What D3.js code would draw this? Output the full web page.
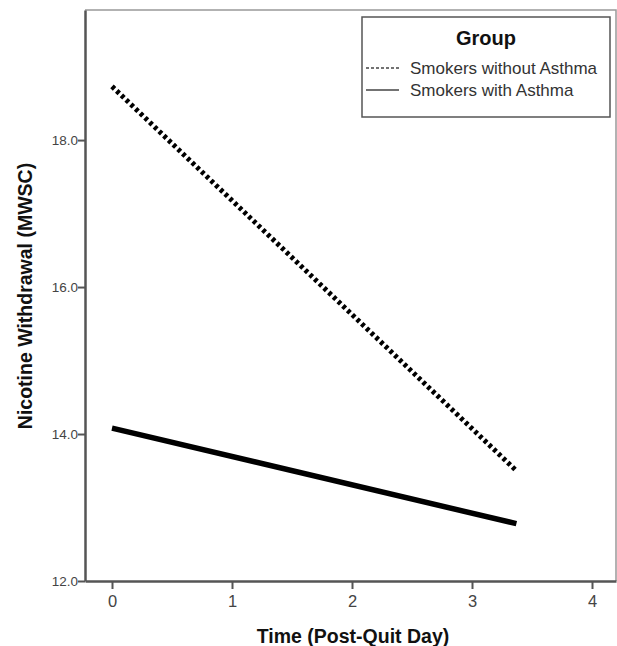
<!DOCTYPE html>
<html>
<head>
<meta charset="utf-8">
<script src="https://cdn.jsdelivr.net/npm/d3@7/dist/d3.min.js"></script>
<style>
  body { margin: 0; background: #fff; }
  svg { display: block; font-family: "Liberation Sans", Arial, sans-serif; }
</style>
</head>
<body>
<div id="chart"></div>
<script>
// values
const groups = ["Smokers without Asthma", "Smokers with Asthma"];
const timeDays = [0, 3.37];
const withoutAsthma = [18.73, 13.50];
const withAsthma = [14.08, 12.78];
const xTicks = [0, 1, 2, 3, 4];
const yTicks = [12, 14, 16, 18];

const W = 617, H = 646;
const margin = { top: 10, right: 1, bottom: 65, left: 85 };

const svg = d3.select("#chart").append("svg")
  .attr("width", W).attr("height", H);

const x = d3.scaleLinear().domain([-0.225, 4.2])
  .range([margin.left, W - margin.right]);
const y = d3.scaleLinear().domain([12, 19.77])
  .range([H - margin.bottom, margin.top]);

// frame (top / right light lines)
svg.append("path")
  .attr("d", `M${margin.left},${margin.top}H${W - margin.right}V${H - margin.bottom}`)
  .attr("fill", "none").attr("stroke", "#999").attr("stroke-width", 1.5);

// y axis
const yAxis = svg.append("g")
  .attr("transform", `translate(${margin.left},0)`)
  .call(d3.axisLeft(y).tickValues(yTicks).tickFormat(d3.format(".1f")).tickSize(7).tickSizeOuter(0));
yAxis.select(".domain").attr("stroke", "#555").attr("stroke-width", 2.5);
yAxis.selectAll(".tick line").attr("stroke", "#555").attr("stroke-width", 2);
yAxis.selectAll(".tick text").attr("fill", "#444").attr("font-size", 13.5)
  .attr("x", -7).attr("font-family", "Liberation Sans, Arial, sans-serif");

// x axis
const xAxis = svg.append("g")
  .attr("transform", `translate(0,${H - margin.bottom})`)
  .call(d3.axisBottom(x).tickValues(xTicks).tickFormat(d3.format("d")).tickSize(8).tickSizeOuter(0));
xAxis.select(".domain").attr("stroke", "#555").attr("stroke-width", 2.5);
xAxis.selectAll(".tick line").attr("stroke", "#555").attr("stroke-width", 2);
xAxis.selectAll(".tick text").attr("fill", "#444").attr("font-size", 16.5)
  .attr("y", 14).attr("font-family", "Liberation Sans, Arial, sans-serif");

// axis titles
svg.append("text")
  .attr("x", 353).attr("y", 643)
  .attr("text-anchor", "middle").attr("font-weight", "bold").attr("font-size", 19.5)
  .attr("fill", "#111")
  .text("Time (Post-Quit Day)");

svg.append("text")
  .attr("transform", "translate(32,296) rotate(-90)")
  .attr("text-anchor", "middle").attr("font-weight", "bold").attr("font-size", 19.5)
  .attr("fill", "#111")
  .text("Nicotine Withdrawal (MWSC)");

// lines
const line = d3.line().x(d => x(d[0])).y(d => y(d[1]));

svg.append("path")
  .datum(timeDays.map((t, i) => [t, withoutAsthma[i]]))
  .attr("d", line)
  .attr("fill", "none").attr("stroke", "#000").attr("stroke-width", 5)
  .attr("stroke-dasharray", "3.5,3");

svg.append("path")
  .datum(timeDays.map((t, i) => [t, withAsthma[i]]))
  .attr("d", line)
  .attr("fill", "none").attr("stroke", "#000").attr("stroke-width", 5.5);

// legend
const lg = svg.append("g").attr("transform", "translate(362,17)");
lg.append("rect")
  .attr("width", 248).attr("height", 100)
  .attr("fill", "#fff").attr("stroke", "#555").attr("stroke-width", 1.5);
lg.append("text")
  .attr("x", 124).attr("y", 28)
  .attr("text-anchor", "middle").attr("font-weight", "bold").attr("font-size", 20)
  .attr("fill", "#111").text("Group");

const dashes = ["3,2", null];
groups.forEach((g, i) => {
  const yy = 51 + i * 22;
  lg.append("line")
    .attr("x1", 4).attr("x2", 37).attr("y1", yy).attr("y2", yy)
    .attr("stroke", "#444").attr("stroke-width", 1.5)
    .attr("stroke-dasharray", dashes[i]);
  lg.append("text")
    .attr("x", 48).attr("y", yy + 6)
    .attr("font-size", 17).attr("fill", "#333")
    .text(g);
});
</script>
</body>
</html>
